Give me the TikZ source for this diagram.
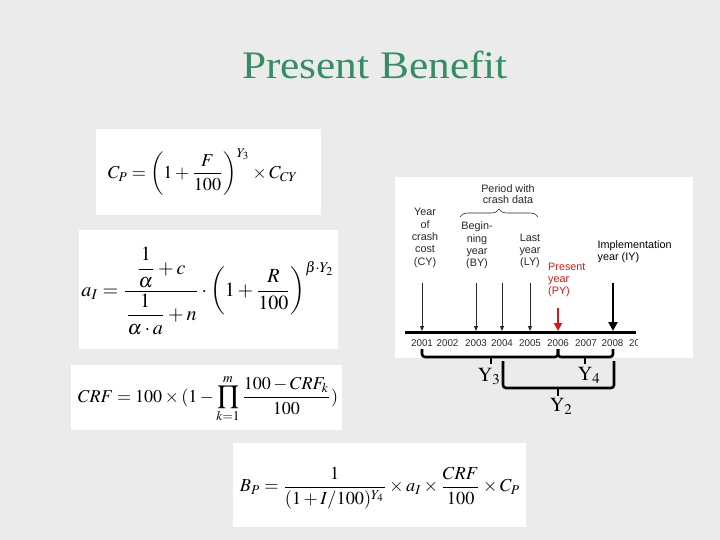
\documentclass[tikz,border=0pt]{standalone}
\usepackage{amsmath}
\usepackage{mathptmx}
\usepackage{fontspec}
\setmainfont{Liberation Serif}
\newfontfamily\arial{Liberation Sans}
\usetikzlibrary{arrows.meta,decorations.pathreplacing}
\definecolor{bg}{RGB}{235,235,235}
\definecolor{titlegreen}{RGB}{52,142,98}
\definecolor{pyred}{RGB}{215,25,25}
\definecolor{tlgray}{RGB}{40,40,40}
\begin{document}
\begin{tikzpicture}[x=1pt,y=-1pt,
  panel/.style={fill=white,draw=none},
  lbl/.style={font=\arial\fontsize{10.8}{12.4}\selectfont,text=tlgray,align=center,inner sep=0pt},
  yearlbl/.style={font=\arial\fontsize{9.8}{11}\selectfont,text=tlgray,inner sep=0pt},
  thinarrow/.style={draw=tlgray,line width=0.9pt,-{Triangle[length=5pt,width=4pt]}},
  redarrow/.style={draw=pyred,line width=2.4pt,-{Triangle[length=8pt,width=8pt]}},
  bigarrow/.style={draw=black,line width=2.8pt,-{Triangle[length=9pt,width=9pt]}},
  bracebar/.style={draw=black,line width=2.6pt,rounded corners=3pt},
  ylbl/.style={font=\fontsize{20}{22}\selectfont,inner sep=0pt},
  frm/.style={inner sep=0pt}]
\useasboundingbox (0,0) rectangle (720,540);
\fill[bg] (0,0) rectangle (720,540);

% title
\node[font=\fontsize{39}{44}\selectfont,text=titlegreen,anchor=base,inner sep=0pt,xscale=1.11] (title) at (375,79) {Present Benefit};

% panels
\fill[panel] (96,129) rectangle (321,215);
\fill[panel] (79,230) rectangle (338,349);
\fill[panel] (71,365) rectangle (342,430);
\fill[panel] (233,443) rectangle (526,527);
\fill[panel] (395,177) rectangle (693,358);

% formulas
\node[frm] (fcp) at (203,172) {\resizebox{190pt}{!}{$C_P=\left(1+\dfrac{F}{100}\right)^{Y_3}\times C_{CY}$}};
\node[frm] (fai) at (208,291) {\resizebox{253pt}{!}{$a_I=\dfrac{\dfrac{1}{\alpha}+c}{\dfrac{1}{\alpha\cdot a}+n}\cdot\left(1+\dfrac{R}{100}\right)^{\beta\cdot Y_2}$}};
\node[frm] (fcrf) at (208,399) {\resizebox{260pt}{!}{$\displaystyle CRF=100\times(1-\prod_{k=1}^{m}\frac{100-CRF_k}{100})$}};
\node[frm] (fbp) at (380,488) {\resizebox{280pt}{!}{$B_P=\dfrac{1}{(1+I/100)^{Y_4}}\times a_I\times\dfrac{CRF}{100}\times C_P$}};

% timeline axis
\coordinate (axL) at (405,332);
\coordinate (axR) at (636,332);
\draw[line width=3pt] (axL) -- (axR);

% years
\node[yearlbl] (y2001) at (422,343) {2001};
\node[yearlbl] (y2002) at (447.5,343) {2002};
\node[yearlbl] (y2003) at (476,343) {2003};
\node[yearlbl] (y2004) at (502,343) {2004};
\node[yearlbl] (y2005) at (530,343) {2005};
\node[yearlbl] (y2006) at (558,343) {2006};
\node[yearlbl] (y2007) at (586,343) {2007};
\node[yearlbl] (y2008) at (612.5,343) {2008};
\begin{scope}
\clip (625,335) rectangle (637,352);
\node[yearlbl] (y2009) at (640,343) {2009};
\end{scope}

% labels above
\node[lbl] (cy) at (425,238) {Year\\of\\crash\\cost\\(CY)};
\node[lbl] (by) at (477,245.5) {Begin-\\ning\\year\\(BY)};
\node[lbl] (ly) at (530,251) {Last\\year\\(LY)};
\node[lbl,font=\arial\fontsize{10.8}{10.5}\selectfont] (period) at (508,194) {Period with\\crash data};
\node[lbl,text=pyred,align=left,anchor=west] (py) at (548,280) {Present\\year\\(PY)};
\node[lbl,text=black,align=left,anchor=west] (iy) at (597.5,251.5) {Implementation\\year (IY)};

% small brace
\coordinate (brL) at (460,217);
\coordinate (brR) at (538,217);
\draw[draw=tlgray,line width=0.6pt,decorate,decoration={brace,amplitude=8pt}] (brL) -- (brR);

% arrows
\coordinate (a1t) at (422,283); \coordinate (a1b) at (422,331);
\coordinate (a3t) at (476,283); \coordinate (a3b) at (476,331);
\coordinate (a4t) at (502,283); \coordinate (a4b) at (502,331);
\coordinate (a5t) at (530,283); \coordinate (a5b) at (530,331);
\coordinate (a6t) at (558,308); \coordinate (a6b) at (558,331);
\coordinate (a8t) at (613,283); \coordinate (a8b) at (613,331);
\draw[thinarrow] (a1t) -- (a1b);
\draw[thinarrow] (a3t) -- (a3b);
\draw[thinarrow] (a4t) -- (a4b);
\draw[thinarrow] (a5t) -- (a5b);
\draw[redarrow] (a6t) -- (a6b);
\draw[bigarrow] (a8t) -- (a8b);

% braces below
\draw[bracebar] (422,349) -- (422,357) -- (558,357) -- (558,349);
\draw[line width=2.6pt] (491,356) -- (491,364);
\draw[bracebar] (558,349) -- (558,357) -- (613,357) -- (613,349);
\draw[line width=2.6pt] (585,356) -- (585,364);
\draw[bracebar] (503,361) -- (503,388) -- (614,388) -- (614,361);
\draw[line width=2.6pt] (558,387) -- (558,396);

\node[ylbl] (y3) at (489,376) {$\mathrm{Y}_3$};
\node[ylbl] (y4) at (589,375) {$\mathrm{Y}_4$};
\node[ylbl] (y2) at (561,406) {$\mathrm{Y}_2$};
\end{tikzpicture}
\end{document}
